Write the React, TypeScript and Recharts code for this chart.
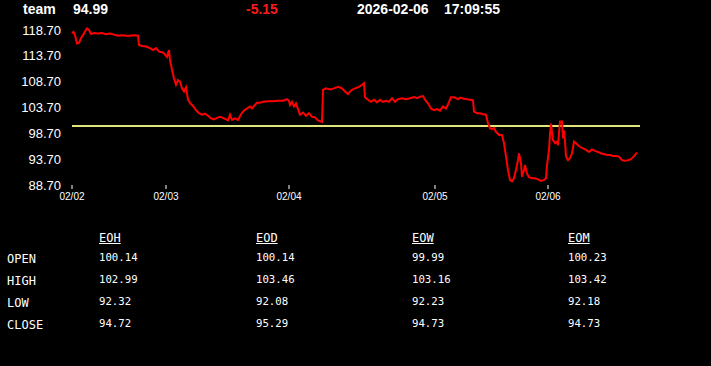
import React from 'react'
import { LineChart, Line, XAxis, YAxis, ReferenceLine } from 'recharts'

const SYMBOL = 'team'
const LAST = '94.99'
const CHANGE = '-5.15'
const DATE = '2026-02-06'
const TIME = '17:09:55'
const PREV_CLOSE = 100.14

const Y_TICKS = [88.7, 93.7, 98.7, 103.7, 108.7, 113.7, 118.7]
const DAY_TICKS = [0, 94, 217, 363, 476]
const DAY_LABELS = ['02/02', '02/03', '02/04', '02/05', '02/06']

// session time (sample clock) and price
const TIMES = [
  0, 1.5, 3, 5, 7, 9, 11, 13, 15, 17, 19, 22, 26, 30, 34, 38, 42, 46, 50, 54, 58, 62, 66,
  67, 70, 74, 78, 81, 84, 87, 90, 92, 95, 97, 98, 100, 102, 104, 106, 108, 110, 112, 114,
  116, 118, 121, 124, 127, 130, 133, 136, 139, 142, 145, 148, 151, 154, 156, 158, 160, 163, 166,
  169, 172, 175, 178, 180, 182, 185, 188, 191, 196, 201, 206, 211, 215, 217, 218, 220, 222, 224, 226,
  228, 231, 234, 237, 240, 243, 246, 249, 250,
  251, 254, 258, 262, 266, 270, 273, 276, 279, 283, 287, 290, 292, 293, 296, 299, 302, 305, 308, 311,
  314, 317, 320, 323, 326, 330, 334, 338, 342, 345, 348, 351,
  353, 356, 359, 362, 365, 368, 371, 374, 376, 379, 382, 386, 388, 392, 395, 398, 401, 402, 405, 408,
  411, 414, 416, 418, 420, 422, 424, 427, 430,
  432, 434, 436, 438, 440, 442, 444, 446, 447, 449, 450, 452, 453, 455, 457, 460, 463, 466, 469, 472, 474,
  475, 476, 477, 478, 479, 481, 483, 485, 486, 488, 490, 491, 492, 493, 494, 496, 498, 500, 502, 504, 506, 508,
  511, 514, 517, 520, 523, 526, 529, 532, 535, 538, 541, 544, 547, 550, 553, 556, 559, 561, 563, 565,
]
const PRICES = [
  118.1, 118.3, 117.7, 116.1, 116.2, 117.1, 117.7, 118.4, 119.0, 118.7, 117.9, 118.1, 118.0, 118.1, 117.9, 118.0, 117.8, 117.6, 117.7, 117.6, 117.6, 117.7, 117.6,
  115.8, 115.6, 115.5, 115.2, 114.8, 115.2, 114.5, 114.4, 114.2, 113.5, 114.8, 112.9, 111.0, 109.3, 108.1, 109.0, 108.7, 107.4, 106.8, 107.6,
  105.2, 104.6, 104.0, 103.2, 102.6, 102.3, 102.5, 102.1, 101.6, 101.4, 101.7, 101.9, 101.7, 101.4, 101.2, 102.3, 101.3, 101.6, 101.3,
  102.4, 103.1, 103.5, 103.9, 103.5, 104.0, 104.6, 104.6, 104.8, 104.9, 104.9, 105.0, 105.0, 105.3, 105.0, 104.2, 104.8, 103.9, 104.5, 103.4,
  102.3, 102.7, 102.1, 102.6, 101.9, 101.8, 101.2, 101.0, 100.9,
  107.1, 107.4, 107.2, 107.4, 107.7, 107.4, 106.8, 106.3, 107.0, 107.4, 107.7, 108.1, 108.4, 105.7, 105.2, 104.8, 105.2, 104.7, 105.2, 104.8,
  105.0, 104.8, 105.5, 104.8, 105.3, 105.5, 105.3, 105.5, 105.7, 105.5, 105.8, 105.9,
  105.2, 104.5, 103.5, 103.2, 103.4, 103.1, 103.9, 103.5, 104.3, 105.7, 105.7, 105.3, 105.6, 105.4, 105.3, 105.2, 105.1, 102.9, 102.6, 102.6,
  102.4, 102.3, 100.6, 99.7, 99.5, 99.7, 99.0, 98.4, 98.4,
  96.8, 94.2, 91.6, 89.7, 89.4, 90.0, 91.6, 93.5, 94.8, 92.9, 90.3, 91.6, 92.6, 90.9, 90.2, 90.0, 90.0, 89.8, 89.5, 89.7, 90.0,
  92.5, 94.0, 95.5, 98.5, 100.6, 97.4, 96.8, 97.1, 96.4, 101.0, 101.0, 97.7, 99.3, 97.1, 94.2, 93.5, 93.9, 94.8, 97.1, 96.8, 96.4, 96.1,
  95.8, 95.5, 95.1, 95.6, 95.3, 95.1, 94.8, 94.7, 94.5, 94.5, 94.3, 94.3, 94.2, 93.5, 93.4, 93.5, 93.7, 94.1, 94.5, 94.99,
]

const PERIODS = ['EOH', 'EOD', 'EOW', 'EOM']
const ROW_LABELS = ['OPEN', 'HIGH', 'LOW', 'CLOSE']
const OPEN = [100.14, 100.14, 99.99, 100.23]
const HIGH = [102.99, 103.46, 103.16, 103.42]
const LOW = [92.32, 92.08, 92.23, 92.18]
const CLOSE = [94.72, 95.29, 94.73, 94.73]

const data = TIMES.map((t, i) => ({ t, price: PRICES[i] }))
const rows = [OPEN, HIGH, LOW, CLOSE]

const headFont = '"Liberation Sans", Arial, sans-serif'
const monoFont = '"DejaVu Sans Mono", "Liberation Mono", monospace'
const COL_X = [99, 256, 412, 568]
const ROW_Y = [258, 280, 302, 324]

export default function App() {
  return (
    <div style={{ position: 'fixed', left: 0, top: 0, width: 711, height: 366, background: '#000', fontFamily: headFont, color: '#fff' }}>
      <div style={{ position: 'absolute', top: 1, left: 23, fontSize: 14, lineHeight: '16px', fontWeight: 'bold' }}>{SYMBOL}</div>
      <div style={{ position: 'absolute', top: 1, left: 73, fontSize: 14, lineHeight: '16px', fontWeight: 'bold' }}>{LAST}</div>
      <div style={{ position: 'absolute', top: 1, left: 246, fontSize: 14, lineHeight: '16px', fontWeight: 'bold', color: '#ff1a1a' }}>{CHANGE}</div>
      <div style={{ position: 'absolute', top: 1, left: 357, fontSize: 14, lineHeight: '16px', fontWeight: 'bold' }}>{DATE}</div>
      <div style={{ position: 'absolute', top: 1, left: 444, fontSize: 14, lineHeight: '16px', fontWeight: 'bold' }}>{TIME}</div>

      <div style={{ position: 'absolute', top: 0, left: 0 }}>
        <LineChart width={711} height={215} data={data} margin={{ top: 27, right: 71, bottom: 0, left: 0 }}>
          <XAxis
            dataKey="t"
            type="number"
            domain={[0, 568]}
            ticks={DAY_TICKS}
            interval={0}
            tickFormatter={(v: number) => DAY_LABELS[DAY_TICKS.indexOf(v)] ?? ''}
            axisLine={false}
            tickLine={{ stroke: '#fff' }}
            tickSize={4}
            tickMargin={4}
            height={30}
            tick={{ fill: '#fff', fontSize: 10 }}
          />
          <YAxis
            type="number"
            domain={[88.7, 119.28]}
            ticks={Y_TICKS}
            interval={0}
            tickFormatter={(v: number) => v.toFixed(2)}
            axisLine={false}
            tickLine={false}
            tickMargin={5}
            width={72}
            tick={{ fill: '#fff', fontSize: 13 }}
          />
          <ReferenceLine y={PREV_CLOSE} stroke="#dfe57c" strokeWidth={2} />
          <Line
            type="linear"
            dataKey="price"
            stroke="#ff0000"
            strokeWidth={2}
            dot={false}
            isAnimationActive={false}
          />
        </LineChart>
      </div>

      <div style={{ fontFamily: monoFont, lineHeight: '14px' }}>
        {PERIODS.map((p, c) => (
          <div key={p} style={{ position: 'absolute', left: COL_X[c], top: 231, fontSize: 12, textDecoration: 'underline' }}>{p}</div>
        ))}
        {ROW_LABELS.map((label, r) => (
          <div key={label} style={{ position: 'absolute', left: 7, top: ROW_Y[r] - 6, fontSize: 12 }}>{label}</div>
        ))}
        {rows.map((vals, r) =>
          vals.map((v, c) => (
            <div key={`${r}-${c}`} style={{ position: 'absolute', left: COL_X[c], top: ROW_Y[r] - 7, fontSize: 10.7 }}>{v.toFixed(2)}</div>
          )),
        )}
      </div>
    </div>
  )
}
